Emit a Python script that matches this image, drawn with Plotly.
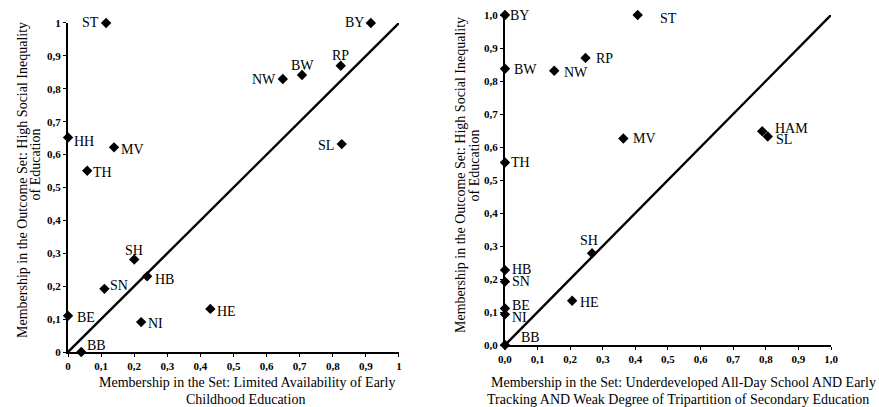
import plotly.graph_objects as go

# Left panel: Limited Availability of Early Childhood Education
left_labels = ["ST", "BY", "RP", "BW", "NW", "SL", "HH", "MV", "TH", "SH", "HB", "SN", "BE", "NI", "HE", "BB"]
left_x = [0.115, 0.915, 0.824, 0.707, 0.649, 0.827, 0.0, 0.139, 0.058, 0.200, 0.239, 0.110, 0.0, 0.221, 0.430, 0.040]
left_y = [1.0, 1.0, 0.870, 0.842, 0.830, 0.632, 0.652, 0.622, 0.551, 0.281, 0.230, 0.192, 0.110, 0.091, 0.131, 0.0]

# Right panel: Underdeveloped All-Day School AND Early Tracking AND Weak Tripartition
right_labels = ["BY", "ST", "RP", "BW", "NW", "MV", "HAM", "SL", "TH", "SH", "HB", "SN", "BE", "NI", "HE", "BB"]
right_x = [0.0, 0.407, 0.247, 0.0, 0.151, 0.363, 0.789, 0.806, 0.0, 0.267, 0.0, 0.0, 0.0, 0.0, 0.206, 0.0]
right_y = [1.0, 1.0, 0.870, 0.837, 0.831, 0.626, 0.648, 0.632, 0.553, 0.278, 0.227, 0.192, 0.111, 0.093, 0.134, 0.0]

ticks = [0, 0.1, 0.2, 0.3, 0.4, 0.5, 0.6, 0.7, 0.8, 0.9, 1.0]
left_ticktext = ["0", "0,1", "0,2", "0,3", "0,4", "0,5", "0,6", "0,7", "0,8", "0,9", "1"]
right_ticktext = ["0,0", "0,1", "0,2", "0,3", "0,4", "0,5", "0,6", "0,7", "0,8", "0,9", "1,0"]

y_title_lines = ["Membership in the Outcome Set: High Social Inequality", "of Education"]
left_x_title_lines = ["Membership in the Set: Limited Availability of Early", "Childhood Education"]
right_x_title_lines = ["Membership in the Set: Underdeveloped All-Day School AND Early",
                       "Tracking AND Weak Degree of Tripartition of Secondary Education"]

# label placement (style): anchor, x shift px, y shift px
left_place = {"ST": ("right", -5, 0), "BY": ("right", -5, 0), "RP": ("center", 0, 10),
              "BW": ("center", 0, 9), "NW": ("right", -5, -1), "SL": ("right", -6, -1),
              "HH": ("left", 4, -4), "MV": ("left", 5, -2), "TH": ("left", 4, -2),
              "SH": ("center", 0, 9), "HB": ("left", 6, -3), "SN": ("left", 4, 3),
              "BE": ("left", 7, -2), "NI": ("left", 5, -1), "HE": ("left", 5, -3), "BB": ("left", 4, 7)}
right_place = {"BY": ("left", 3, 0), "ST": ("left", 20, -3), "RP": ("left", 8, -1),
               "BW": ("left", 7, -1), "NW": ("left", 8, -2), "MV": ("left", 8, 0),
               "HAM": ("left", 11, 3), "SL": ("left", 6, -3), "TH": ("left", 4, 0),
               "SH": ("center", -3, 13), "HB": ("left", 5, 1), "SN": ("left", 5, 0),
               "BE": ("left", 5, 3), "NI": ("left", 5, -3), "HE": ("left", 6, -2), "BB": ("left", 14, 8)}

SERIF = "Liberation Serif, Times New Roman, serif"
fig = go.Figure()

def add_panel(xs, ys, labels, place, xa, ya):
    fig.add_trace(go.Scatter(x=[0, 1], y=[0, 1], mode="lines", line=dict(color="black", width=2.4),
                             xaxis=xa, yaxis=ya, showlegend=False, hoverinfo="skip"))
    fig.add_trace(go.Scatter(
        x=xs, y=ys, mode="markers", text=labels,
        marker=dict(symbol="diamond", size=8, color="black"),
        cliponaxis=False, xaxis=xa, yaxis=ya, showlegend=False))
    for lx, ly, lab in zip(xs, ys, labels):
        anc, dx, dy = place[lab]
        fig.add_annotation(x=lx, y=ly, xref=xa, yref=ya, text=lab, showarrow=False,
                           xanchor=anc, yanchor="middle", xshift=dx, yshift=dy,
                           font=dict(family=SERIF, size=14, color="black"))

add_panel(left_x, left_y, left_labels, left_place, "x", "y")
add_panel(right_x, right_y, right_labels, right_place, "x2", "y2")

axis_common = dict(range=[0, 1], showgrid=False, zeroline=False, showline=True, linecolor="black",
                   linewidth=2, ticks="outside", ticklen=3, tickcolor="black", tickvals=ticks,
                   automargin=False,
                   tickfont=dict(family=SERIF, size=11, color="black", weight="bold"))

fig.update_layout(
    width=879, height=407, margin=dict(l=0, r=0, t=0, b=0, autoexpand=False),
    paper_bgcolor="white", plot_bgcolor="white",
    xaxis=dict(domain=[0.0774, 0.4539], ticktext=left_ticktext, anchor="y", **axis_common),
    yaxis=dict(domain=[0.1351, 0.9435], ticktext=left_ticktext, anchor="x", **axis_common),
    xaxis2=dict(domain=[0.5745, 0.9454], ticktext=right_ticktext, anchor="y2", **axis_common),
    yaxis2=dict(domain=[0.1523, 0.9631], ticktext=right_ticktext, anchor="x2", **axis_common),
)

ann_font = dict(family=SERIF, size=14, color="black")
common_ann = dict(xref="paper", yref="paper", showarrow=False, font=ann_font,
                  xanchor="center", yanchor="middle")

def px(xp, yp):
    return dict(x=xp / 879, y=1 - yp / 407)

fig.add_annotation(text=y_title_lines[0], textangle=-90, **px(22, 180), **common_ann)
fig.add_annotation(text=y_title_lines[1], textangle=-90, **px(34.5, 165), **common_ann)
fig.add_annotation(text=y_title_lines[0], textangle=-90, **px(461, 175), **common_ann)
fig.add_annotation(text=y_title_lines[1], textangle=-90, **px(473.5, 165), **common_ann)
fig.add_annotation(text=left_x_title_lines[0], **px(247, 382.5), **common_ann)
fig.add_annotation(text=left_x_title_lines[1], **px(245, 399), **common_ann)
fig.add_annotation(text=right_x_title_lines[0], **px(683, 382), **common_ann)
fig.add_annotation(text=right_x_title_lines[1], **px(678, 399.5), **common_ann)

fig.write_html("out.html", config={"displayModeBar": False},
               post_script="document.body.style.margin='0px';")
